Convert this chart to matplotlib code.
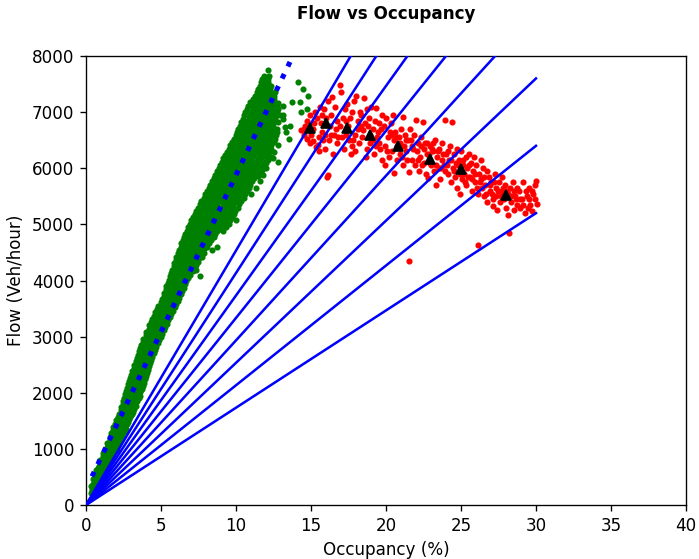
import numpy as np
import matplotlib
matplotlib.use('Agg')
import matplotlib.pyplot as plt

# free-flow detector samples: rows of flow (veh/hour) -> occupancies (%)
green_rows = [
    (220, [0.3, 0.52]),
    (280, [0.43, 0.63]),
    (335, [0.35, 0.61, 0.78]),
    (400, [0.5, 0.7, 0.97]),
    (455, [0.47, 0.88, 1.05]),
    (515, [0.63, 0.86, 1.17]),
    (570, [0.72, 1.02, 1.22]),
    (630, [0.66, 0.92, 1.24, 1.38]),
    (690, [0.85, 1.07, 1.45]),
    (745, [0.93, 1.22, 1.47]),
    (810, [0.96, 1.31, 1.58]),
    (865, [1.1, 1.35, 1.75]),
    (925, [1.15, 1.5, 1.77]),
    (985, [1.25, 1.58, 1.82, 2.08]),
    (1040, [1.4, 1.66, 2.02]),
    (1100, [1.43, 1.82, 2.17]),
    (1160, [1.58, 1.85, 2.22]),
    (1215, [1.62, 1.98, 2.34]),
    (1275, [1.68, 2.09, 2.42]),
    (1335, [1.78, 2.06, 2.43, 2.6]),
    (1390, [1.83, 2.24, 2.57]),
    (1450, [1.95, 2.27, 2.73]),
    (1510, [2.0, 2.41, 2.77]),
    (1565, [2.13, 2.43, 2.93]),
    (1625, [2.18, 2.58, 2.82, 3.07]),
    (1685, [2.3, 2.62, 3.08]),
    (1740, [2.33, 2.75, 3.18]),
    (1800, [2.45, 2.78, 3.22]),
    (1860, [2.46, 2.92, 3.37]),
    (1915, [2.55, 2.93, 3.27, 3.52]),
    (1975, [2.6, 3.03, 3.43]),
    (2035, [2.64, 3.05, 3.62]),
    (2090, [2.72, 3.18, 3.68]),
    (2150, [2.8, 3.17, 3.58, 3.76]),
    (2210, [2.87, 3.33, 3.8]),
    (2265, [2.93, 3.4, 3.9]),
    (2325, [3.03, 3.43, 3.77, 3.96]),
    (2385, [3.08, 3.58, 4.0]),
    (2440, [3.18, 3.62, 4.1]),
    (2500, [3.23, 3.73, 4.13]),
    (2560, [3.35, 3.72, 4.03, 4.24]),
    (2615, [3.38, 3.88, 4.22]),
    (2675, [3.48, 3.87, 4.34]),
    (2735, [3.52, 4.01, 4.38]),
    (2790, [3.63, 4.02, 4.33, 4.52]),
    (2850, [3.68, 4.18, 4.55]),
    (2910, [3.81, 4.2, 4.7]),
    (2965, [3.83, 4.33, 4.52, 4.8]),
    (3025, [3.98, 4.37, 4.9]),
    (3085, [4.03, 4.53, 4.95]),
    (3140, [4.18, 4.55, 4.88, 5.1]),
    (3200, [4.2, 4.71, 5.15]),
    (3260, [4.35, 4.75, 5.3]),
    (3315, [4.38, 4.91, 5.12, 5.4]),
    (3375, [4.53, 4.92, 5.5]),
    (3435, [4.6, 5.08, 5.55]),
    (3490, [4.75, 5.12, 5.48, 5.7]),
    (3550, [4.83, 5.31, 5.84]),
    (3610, [4.98, 5.35, 5.68, 5.9]),
    (3665, [5.07, 5.53, 6.0]),
    (3725, [5.23, 5.57, 5.93, 6.13]),
    (3785, [5.22, 5.71, 6.25]),
    (3840, [5.35, 5.72, 6.08, 6.3]),
    (3900, [5.36, 5.85, 6.4]),
    (3960, [5.48, 5.87, 6.23, 6.5]),
    (4015, [5.52, 6.01, 6.6]),
    (4075, [5.58, 6.08, 6.35, 6.74, 7.6]),
    (4135, [5.68, 6.1, 6.53, 6.83]),
    (4190, [5.73, 6.23, 6.57, 7.0, 7.35]),
    (4250, [5.85, 6.25, 6.73, 7.05]),
    (4310, [5.88, 6.41, 6.77, 7.2]),
    (4365, [5.98, 6.42, 6.93, 7.25]),
    (4425, [6.02, 6.5, 6.95, 7.4, 7.7]),
    (4485, [6.13, 6.57, 7.08, 7.45, 7.85]),
    (4540, [6.18, 6.7, 7.12, 7.6, 8.4]),
    (4600, [6.3, 6.72, 7.25, 7.65, 8.05, 8.75]),
    (4660, [6.33, 6.88, 7.27, 7.8, 8.2]),
    (4715, [6.45, 6.9, 7.42, 7.85, 8.35]),
    (4775, [6.52, 7.03, 7.47, 8.0, 8.5]),
    (4835, [6.58, 7.12, 7.58, 8.12, 8.62]),
    (4890, [6.72, 7.18, 7.73, 8.2, 8.75, 9.1]),
    (4950, [6.8, 7.33, 7.78, 8.3, 8.82, 9.35]),
    (5010, [6.92, 7.38, 7.93, 8.4, 8.95, 9.5]),
    (5070, [7.02, 7.53, 7.98, 8.52, 9.05, 9.6, 10.0]),
    (5125, [7.1, 7.62, 8.12, 8.6, 9.18, 9.7]),
    (5185, [7.25, 7.68, 8.23, 8.75, 9.25, 9.85]),
    (5245, [7.33, 7.88, 8.32, 8.9, 9.4, 9.95]),
    (5300, [7.48, 7.92, 8.48, 8.98, 9.52, 10.1]),
    (5360, [7.57, 8.08, 8.53, 9.1, 9.6, 10.2]),
    (5420, [7.68, 8.22, 8.72, 9.18, 9.75, 10.35]),
    (5475, [7.85, 8.28, 8.83, 9.35, 9.82, 10.5]),
    (5535, [7.93, 8.48, 8.92, 9.48, 10.0, 10.6, 11.0]),
    (5595, [8.08, 8.52, 9.08, 9.57, 10.1, 10.75]),
    (5650, [8.17, 8.68, 9.13, 9.7, 10.22, 10.85, 11.3]),
    (5710, [8.25, 8.83, 9.28, 9.83, 10.38, 10.95]),
    (5770, [8.38, 8.92, 9.43, 9.92, 10.48, 11.05, 11.6]),
    (5825, [8.5, 9.05, 9.5, 10.05, 10.58, 11.2]),
    (5885, [8.62, 9.18, 9.62, 10.2, 10.72, 11.35, 11.8]),
    (5945, [8.7, 9.28, 9.82, 10.33, 10.88, 11.5]),
    (6000, [8.88, 9.4, 9.97, 10.5, 11.03, 11.62, 12.0]),
    (6060, [8.95, 9.52, 10.08, 10.62, 11.18, 11.78]),
    (6120, [9.05, 9.63, 10.22, 10.78, 11.33, 11.92, 12.8]),
    (6175, [9.15, 9.73, 10.33, 10.88, 11.48, 12.08, 12.45]),
    (6235, [9.28, 9.85, 10.47, 11.03, 11.58, 12.15]),
    (6295, [9.4, 10.02, 10.58, 11.12, 11.68, 12.2, 12.55]),
    (6350, [9.52, 10.1, 10.7, 11.25, 11.78, 12.3]),
    (6410, [9.62, 10.22, 10.83, 11.37, 11.88, 12.35, 12.8]),
    (6470, [9.75, 10.38, 10.92, 11.48, 11.98, 12.5]),
    (6530, [9.85, 10.45, 11.05, 11.57, 12.08, 12.6, 13.5]),
    (6585, [9.98, 10.62, 11.15, 11.68, 12.15, 12.65]),
    (6645, [10.05, 10.68, 11.28, 11.78, 12.25, 12.7, 13.3]),
    (6705, [10.12, 10.8, 11.37, 11.88, 12.35, 12.72]),
    (6740, [13.27]),
    (6760, [10.25, 10.93, 11.48, 11.97, 12.48, 13.6]),
    (6820, [10.3, 11.02, 11.58, 12.08, 12.55, 12.8]),
    (6880, [10.45, 11.13, 11.65, 12.12, 12.62, 13.1]),
    (6940, [10.55, 11.22, 11.75, 12.23, 12.7, 12.95, 13.16]),
    (6995, [10.62, 11.33, 11.83, 12.28, 12.75, 14.3]),
    (7055, [10.72, 11.4, 11.9, 12.35, 12.78, 14.7]),
    (7115, [10.8, 11.48, 11.97, 12.4, 12.7, 13.16]),
    (7160, [12.82]),
    (7175, [10.95, 11.55, 12.03, 12.45, 13.75, 14.25]),
    (7230, [11.1, 11.63, 12.08, 12.5]),
    (7290, [11.25, 11.73, 12.18, 12.55, 14.8]),
    (7350, [11.38, 11.8, 12.22, 12.6]),
    (7410, [11.45, 11.9, 12.28, 14.45]),
    (7470, [11.6, 11.98, 12.33]),
    (7530, [11.68, 12.1, 14.15]),
    (7590, [11.75, 12.15]),
    (7650, [11.85, 12.2]),
    (7750, [12.1]),
]

# second pass of free-flow samples lying between the rows above
green_rows_b = [
    (250, [0.42]),
    (308, [0.5, 0.7]),
    (368, [0.45, 0.68, 0.88]),
    (428, [0.6, 0.8, 1.0]),
    (485, [0.55, 0.76, 0.97]),
    (543, [0.7, 0.95, 1.12]),
    (600, [0.82, 1.1, 1.3]),
    (660, [0.78, 1.05, 1.32]),
    (718, [0.95, 1.15, 1.38]),
    (778, [1.05, 1.3, 1.55]),
    (838, [1.12, 1.45, 1.68]),
    (895, [1.2, 1.55, 1.78]),
    (955, [1.32, 1.65, 1.95]),
    (1012, [1.45, 1.72, 1.95]),
    (1070, [1.5, 1.85, 2.1]),
    (1130, [1.62, 1.95, 2.2]),
    (1188, [1.7, 2.08, 2.28]),
    (1245, [1.82, 2.15, 2.38]),
    (1305, [1.9, 2.25, 2.55]),
    (1362, [1.98, 2.32, 2.65]),
    (1420, [2.05, 2.45, 2.68]),
    (1480, [2.15, 2.55, 2.82]),
    (1538, [2.25, 2.62, 2.88]),
    (1595, [2.35, 2.7, 2.98]),
    (1655, [2.42, 2.85, 3.12]),
    (1712, [2.5, 2.92, 3.2]),
    (1770, [2.58, 3.0, 3.3]),
    (1830, [2.65, 3.05, 3.35]),
    (1888, [2.72, 3.12, 3.42]),
    (1945, [2.8, 3.18, 3.58]),
    (2005, [2.85, 3.3, 3.62]),
    (2062, [2.9, 3.38, 3.72]),
    (2120, [3.0, 3.4, 3.82]),
    (2180, [3.1, 3.5, 3.88]),
    (2238, [3.15, 3.62, 3.95]),
    (2295, [3.22, 3.68, 4.0]),
    (2355, [3.3, 3.7, 4.05]),
    (2412, [3.38, 3.82, 4.15]),
    (2470, [3.45, 3.9, 4.2]),
    (2530, [3.55, 3.95, 4.28]),
    (2588, [3.62, 4.08, 4.35]),
    (2645, [3.68, 4.12, 4.42]),
    (2705, [3.78, 4.2, 4.5]),
    (2762, [3.85, 4.25, 4.6]),
    (2820, [3.92, 4.4, 4.65]),
    (2880, [4.0, 4.45, 4.78]),
    (2938, [4.08, 4.5, 4.88]),
    (2995, [4.15, 4.65, 4.98]),
    (3055, [4.25, 4.72, 5.05]),
    (3112, [4.35, 4.8, 5.18]),
    (3170, [4.45, 4.95, 5.28]),
    (3230, [4.55, 5.0, 5.38]),
    (3288, [4.62, 5.1, 5.48]),
    (3345, [4.72, 5.22, 5.58]),
    (3405, [4.82, 5.3, 5.68]),
    (3462, [4.95, 5.4, 5.78]),
    (3520, [5.05, 5.55, 5.9]),
    (3580, [5.12, 5.62, 6.0]),
    (3638, [5.28, 5.75, 6.12]),
    (3695, [5.35, 5.8, 6.22]),
    (3755, [5.45, 5.95, 6.3]),
    (3812, [5.52, 6.0, 6.4]),
    (3870, [5.6, 6.1, 6.5]),
    (3930, [5.65, 6.15, 6.58]),
    (3988, [5.75, 6.3, 6.68]),
    (4045, [5.82, 6.38, 6.8]),
    (4105, [5.9, 6.45, 6.92]),
    (4162, [5.98, 6.4, 6.8, 7.1]),
    (4220, [6.05, 6.5, 6.92, 7.25]),
    (4280, [6.1, 6.58, 7.0, 7.35]),
    (4338, [6.2, 6.68, 7.12, 7.45]),
    (4395, [6.25, 6.72, 7.18, 7.55]),
    (4455, [6.35, 6.82, 7.28, 7.62]),
    (4512, [6.42, 6.9, 7.35, 7.75]),
    (4570, [6.48, 6.95, 7.42, 7.85]),
    (4630, [6.55, 7.05, 7.48, 7.92]),
    (4688, [6.62, 7.1, 7.55, 8.02]),
    (4745, [6.72, 7.22, 7.7, 8.15]),
    (4805, [6.82, 7.3, 7.78, 8.3]),
    (4862, [6.88, 7.38, 7.88, 8.4]),
    (4920, [6.98, 7.48, 8.0, 8.5, 8.95]),
    (4980, [7.1, 7.58, 8.08, 8.58, 9.15]),
    (5040, [7.18, 7.68, 8.18, 8.7, 9.25]),
    (5098, [7.28, 7.78, 8.28, 8.8, 9.35]),
    (5155, [7.38, 7.88, 8.38, 8.9, 9.45]),
    (5215, [7.48, 7.98, 8.5, 9.02, 9.58]),
    (5272, [7.6, 8.12, 8.62, 9.15, 9.7]),
    (5330, [7.72, 8.22, 8.75, 9.25, 9.82]),
    (5390, [7.82, 8.32, 8.82, 9.35, 9.92]),
    (5448, [7.95, 8.45, 8.98, 9.48, 10.05]),
    (5505, [8.05, 8.58, 9.1, 9.6, 10.2]),
    (5565, [8.2, 8.7, 9.22, 9.75, 10.32]),
    (5622, [8.3, 8.8, 9.32, 9.85, 10.45]),
    (5680, [8.42, 8.95, 9.45, 9.98, 10.55]),
    (5740, [8.55, 9.05, 9.58, 10.1, 10.68]),
    (5798, [8.65, 9.18, 9.7, 10.25, 10.8]),
    (5855, [8.78, 9.3, 9.82, 10.38, 10.92, 11.45]),
    (5915, [8.9, 9.42, 9.95, 10.5, 11.05, 11.62]),
    (5972, [9.02, 9.55, 10.08, 10.62, 11.18, 11.75]),
    (6030, [9.15, 9.68, 10.22, 10.78, 11.32, 11.88]),
    (6090, [9.25, 9.8, 10.35, 10.9, 11.45, 12.0]),
    (6148, [9.38, 9.92, 10.48, 11.02, 11.58, 12.15]),
    (6205, [9.5, 10.05, 10.6, 11.15, 11.72, 12.3]),
    (6265, [9.6, 10.18, 10.72, 11.28, 11.85]),
    (6322, [9.72, 10.3, 10.85, 11.4, 11.95]),
    (6380, [9.82, 10.42, 10.98, 11.52, 12.05]),
    (6440, [9.95, 10.55, 11.1, 11.62, 12.12]),
    (6500, [10.08, 10.65, 11.2, 11.72, 12.2]),
    (6558, [10.18, 10.78, 11.3, 11.82, 12.35]),
    (6615, [10.3, 10.88, 11.42, 11.92, 12.45]),
    (6675, [10.42, 11.0, 11.52, 12.02, 12.55]),
    (6732, [10.55, 11.1, 11.62, 12.12]),
    (6790, [10.62, 11.22, 11.72, 12.22]),
    (6850, [10.72, 11.3, 11.8, 12.3]),
    (6910, [10.85, 11.4, 11.9, 12.38]),
    (6968, [10.95, 11.5, 11.98, 12.45]),
    (7025, [11.05, 11.58, 12.05, 12.5]),
    (7085, [11.12, 11.65, 12.12]),
    (7145, [11.22, 11.72, 12.2]),
    (7202, [11.35, 11.82, 12.28]),
    (7260, [11.45, 11.9, 12.32]),
    (7320, [11.55, 11.98, 12.38]),
    (7380, [11.65, 12.05]),
    (7440, [11.7, 12.12]),
    (7500, [11.8, 12.15]),
    (7560, [11.9]),
    (7620, [12.0]),
]

# congested samples (occupancy %, flow veh/hour)
red_points = [
    (14.35, 6690), (14.5, 6600), (14.6, 6760), (14.7, 6520), (14.75, 6850), (14.55, 6700),
    (14.9, 6950), (15.0, 6600), (15.1, 6480), (15.2, 6800), (15.25, 7000), (14.95, 6450),
    (15.15, 6700), (15.3, 6380), (15.4, 6900), (15.5, 6550), (15.6, 7100), (15.7, 6650),
    (15.45, 6420), (15.75, 6950), (15.55, 6300), (15.65, 6800), (15.85, 7050), (15.9, 6600),
    (16.0, 6900), (16.05, 5850), (16.1, 5880), (16.15, 7200), (16.2, 6500), (16.25, 6750),
    (15.95, 6350), (16.35, 6950), (16.4, 7270), (16.5, 6600), (16.6, 7100), (16.7, 6450),
    (16.75, 6850), (16.45, 6250), (16.65, 6700), (16.9, 7490), (17.0, 7350), (17.05, 6550),
    (17.1, 6900), (17.2, 6350), (17.25, 7050), (16.95, 6750), (17.3, 6600), (17.4, 7150),
    (17.5, 6500), (17.6, 6900), (17.7, 6400), (17.75, 7000), (17.45, 6750), (17.65, 6250),
    (17.85, 7200), (17.9, 6600), (18.0, 7290), (18.1, 6850), (18.2, 6450), (18.25, 7000),
    (17.95, 6300), (18.15, 6700), (18.35, 6950), (18.4, 6550), (18.5, 7250), (18.6, 6800),
    (18.7, 6350), (18.75, 7050), (18.45, 6680), (18.65, 6200), (18.85, 6900), (18.9, 6450),
    (19.0, 7100), (19.1, 6700), (19.2, 6250), (19.25, 6850), (18.95, 6600), (19.3, 6400),
    (19.35, 7080), (19.4, 6550), (19.5, 6800), (19.6, 6350), (19.7, 6950), (19.75, 6150),
    (19.45, 6650), (19.85, 6750), (19.9, 6400), (20.0, 6900), (20.1, 6550), (20.2, 6200),
    (20.25, 6650), (19.95, 6050), (20.35, 6800), (20.4, 6300), (20.5, 5910), (20.55, 6500),
    (20.6, 6650), (20.7, 6150), (20.75, 6400), (20.45, 6950), (20.85, 6550), (20.9, 6250),
    (21.0, 6700), (21.1, 6050), (21.15, 6920), (21.2, 6400), (21.25, 6600), (21.35, 6300),
    (21.45, 6500), (21.5, 5940), (21.55, 4350), (21.6, 6700), (21.7, 6150), (21.75, 6400),
    (21.85, 6600), (21.9, 6050), (22.0, 6860), (22.05, 6300), (22.15, 6450), (22.2, 5950),
    (22.25, 6200), (22.35, 6550), (22.45, 6830), (22.5, 6100), (22.55, 6350), (22.65, 5900),
    (22.7, 6250), (22.75, 6450), (22.8, 5820), (22.9, 6400), (23.0, 6050), (23.1, 6300),
    (23.2, 5950), (23.25, 6500), (23.3, 5700), (23.4, 6200), (23.5, 6000), (23.55, 6350),
    (23.6, 5800), (23.7, 6150), (23.75, 6450), (23.85, 6050), (23.95, 6860), (24.0, 6250),
    (24.1, 5900), (24.2, 6150), (24.25, 6400), (24.3, 5750), (24.4, 6830), (24.45, 6000),
    (24.5, 6250), (24.6, 5850), (24.65, 6100), (24.7, 6350), (24.75, 5650), (24.85, 6150),
    (24.9, 5550), (25.0, 6300), (25.05, 5800), (25.15, 6050), (25.2, 5900), (25.3, 6200),
    (25.35, 5700), (25.4, 6000), (25.5, 6250), (25.6, 5850), (25.65, 6100), (25.75, 5600),
    (25.8, 5950), (25.85, 6200), (25.95, 5750), (26.0, 6050), (26.1, 5550), (26.15, 4630),
    (26.2, 5900), (26.3, 6150), (26.35, 5800), (26.45, 6000), (26.5, 5500), (26.6, 5700),
    (26.7, 5950), (26.75, 5400), (26.85, 5850), (26.95, 5600), (27.0, 5750), (27.1, 5450),
    (27.15, 5320), (27.25, 5900), (27.3, 5650), (27.35, 5500), (27.4, 5260), (27.5, 5750),
    (27.6, 5400), (27.7, 5600), (27.75, 5850), (27.85, 5450), (27.9, 5700), (28.0, 5300),
    (28.1, 5550), (28.15, 5170), (28.2, 4850), (28.25, 5650), (28.35, 5400), (28.45, 5750),
    (28.5, 5250), (28.6, 5500), (28.7, 5650), (28.75, 5350), (28.85, 5600), (28.95, 5300),
    (29.05, 5450), (29.15, 5750), (29.25, 5200), (29.4, 5500), (29.5, 5650), (29.6, 5350),
    (29.7, 5230), (29.8, 5550), (29.9, 5700), (30.0, 5770), (30.05, 5370),
    (15.8, 6500), (16.3, 6600), (16.8, 6550), (17.35, 6850), (17.8, 6500), (18.3, 6750),
    (18.8, 6750), (19.15, 6500), (19.55, 6450), (19.65, 6700), (20.05, 6300), (20.3, 6600),
    (20.65, 6550), (20.95, 6450), (21.05, 6200), (21.3, 6500), (21.4, 6150), (21.65, 6500),
    (21.8, 6350), (22.1, 6150), (22.3, 6400), (22.4, 6050), (22.6, 6450), (22.85, 6250),
    (22.95, 6100), (23.05, 6350), (23.15, 6450), (23.35, 6050), (23.45, 6300), (23.65, 6000),
    (23.8, 6250), (23.9, 5950), (24.05, 6050), (24.15, 6300), (24.35, 6150), (24.55, 5950),
    (24.8, 6050), (24.95, 5900), (25.1, 6150), (25.25, 5750), (25.45, 5850), (25.55, 6050),
    (25.7, 5800), (25.9, 5900), (26.05, 5650), (26.25, 5750), (26.4, 5650), (26.55, 5850),
    (26.65, 5550), (26.9, 5700), (27.05, 5550), (27.2, 5750), (27.45, 5600), (27.65, 5500),
    (27.8, 5650), (28.05, 5600), (28.3, 5500), (28.55, 5600), (28.65, 5450), (28.9, 5450),
    (29.1, 5350), (29.3, 5600), (29.45, 5300), (29.55, 5450), (29.75, 5600), (29.95, 5450),
]

# binned congested means
tri_occ = [14.9, 16.0, 17.4, 18.9, 20.8, 22.9, 25.0, 28.0]
tri_flow = [6710, 6810, 6710, 6590, 6400, 6165, 5980, 5520]

# free-flow fit line end points
fit_occ = [0.4, 13.7]
fit_flow = [510, 7950]

# wave lines from the origin: flow reached at 30 % occupancy
wave_end_occ = 30
wave_end_flow = [5200, 6400, 7600, 8800, 10000, 11200, 12400, 13600]

green_x = [x for f, xs in green_rows + green_rows_b for x in xs]
green_y = [f for f, xs in green_rows + green_rows_b for x in xs]
red_x = [p[0] for p in red_points]
red_y = [p[1] for p in red_points]

dpi = 121
fig = plt.figure(figsize=(699 / dpi, 559 / dpi), dpi=dpi)
ax = fig.add_axes([86 / 699, 54 / 559, 600 / 699, 449 / 559])

ax.scatter(green_x, green_y, s=7, c='green', zorder=2)
ax.scatter(red_x, red_y, s=7, c='red', zorder=2)

for f in wave_end_flow:
    ax.plot([0, wave_end_occ], [0, f], color='blue', linewidth=1.5, zorder=3)

ax.plot(fit_occ, fit_flow, 'b:', linewidth=3, zorder=3)
ax.plot(tri_occ, tri_flow, 'k^', markersize=6, zorder=4)

ax.set_xlim(0, 40)
ax.set_ylim(0, 8000)
ax.set_xlabel('Occupancy (%)')
ax.set_ylabel('Flow (Veh/hour)')
ax.set_title('Flow vs Occupancy', fontweight='bold', fontsize=10, pad=22)

fig.savefig('out.png', dpi=dpi)
